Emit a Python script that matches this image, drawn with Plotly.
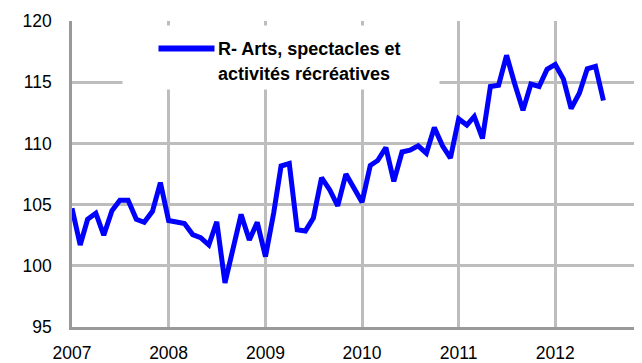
import plotly.graph_objects as go
import pandas as pd

# monthly index, Jan 2007 - Jul 2012
months = pd.date_range("2007-01-01", periods=67, freq="MS")
values = [
    104.7, 101.7, 103.8, 104.3, 102.5, 104.5, 105.35, 105.35, 103.8, 103.55, 104.45, 106.8,
    103.7, 103.6, 103.45, 102.55, 102.3, 101.7, 103.6, 98.6, 101.45, 104.2, 102.1, 103.55,
    100.75, 104.3, 108.15, 108.35, 102.95, 102.85, 103.9, 107.2, 106.2, 104.9, 107.5, 106.35,
    105.2, 108.2, 108.6, 109.65, 106.9, 109.3, 109.45, 109.8, 109.2, 111.3, 109.8, 108.8,
    112.0, 111.5, 112.2, 110.4, 114.65, 114.75, 117.2, 114.85, 112.7, 114.85, 114.65, 116.05,
    116.45, 115.25, 112.85, 114.1, 116.1, 116.3, 113.5,
]
series_name = ["R- Arts, spectacles et", "activités récréatives"]
year_ticks = ["2007", "2008", "2009", "2010", "2011", "2012"]
y_ticks = [95, 100, 105, 110, 115, 120]

font_family = "Liberation Sans, Arial, sans-serif"

fig = go.Figure()
fig.add_trace(go.Scatter(
    x=months,
    y=values,
    mode="lines",
    name=" ".join(series_name),
    line=dict(color="#0000ff", width=5),
    showlegend=False,
))

# legend drawn by hand: white box over the grid, long line sample, two text lines
fig.add_annotation(xref="paper", yref="paper", x=0.088, y=0.987,
                   xanchor="left", yanchor="top", showarrow=False,
                   text=" ", width=316, height=63, bgcolor="white", borderpad=0)
fig.add_annotation(xref="paper", yref="paper", x=0.151, y=0.9085,
                   xanchor="left", yanchor="middle", showarrow=False,
                   text=" ", width=55, height=5, bgcolor="#0000ff", borderpad=0,
                   font=dict(size=1))
for i, txt in enumerate(series_name):
    fig.add_annotation(xref="paper", yref="paper", x=0.2531, y=[0.9085, 0.8268][i],
                       xanchor="left", yanchor="middle", showarrow=False,
                       text="<b>" + txt + "</b>",
                       font=dict(family=font_family, size=18, color="black"))

# page body keeps its 8px margin, so the figure is 8px smaller than the window
fig.update_layout(
    width=634, height=355,
    margin=dict(l=64, r=1, t=13, b=36),
    plot_bgcolor="white",
    paper_bgcolor="white",
    font=dict(family=font_family, size=17.5, color="black"),
    xaxis=dict(
        range=["2007-01-01", "2012-11-20"],
        tickvals=[y + "-01-01" for y in year_ticks],
        ticktext=year_ticks,
        showgrid=True, gridcolor="#bdbdbd", gridwidth=2.5,
        showline=True, linecolor="#999999", linewidth=2.5,
        zeroline=False, ticks="", ticklabelstandoff=8, automargin=False,
    ),
    yaxis=dict(
        range=[95, 120],
        tickvals=y_ticks,
        showgrid=True, gridcolor="#bdbdbd", gridwidth=2.5,
        showline=True, linecolor="#999999", linewidth=2.5,
        zeroline=False, ticks="", ticklabelstandoff=14, automargin=False,
    ),
)

fig.write_html("out.html")
